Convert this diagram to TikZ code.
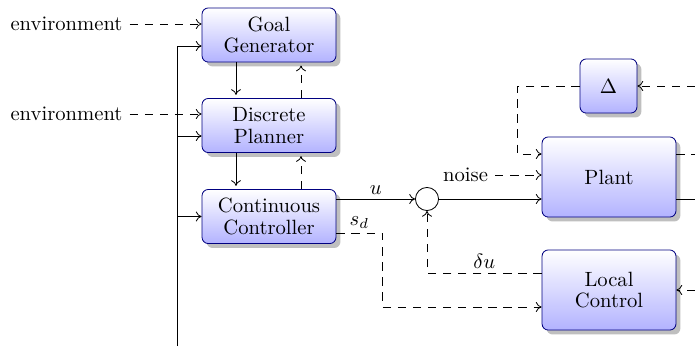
\documentclass[tikz,border=0pt]{standalone}
\usetikzlibrary{shadows,calc,arrows.meta}
\begin{document}
\begin{tikzpicture}[x=0.4846pt,y=-0.4846pt, line width=0.4pt,
  >={To[length=2.8pt,width=4.8pt]},
  blk/.style={draw=blue!50!black, rounded corners=3pt, top color=white, bottom color=blue!30,
    drop shadow={fill=black!25, opacity=1}, align=center, inner sep=0pt,
    font={\fontsize{10}{10.5}\selectfont}},
  wide/.style={blk, minimum width=64.9pt, minimum height=26.2pt},
  tall/.style={blk, minimum width=64.9pt, minimum height=38.8pt},
  sq/.style={blk, minimum width=27.6pt, minimum height=26.2pt},
  sumnode/.style={circle, draw, minimum size=11.2pt, inner sep=0pt},
  dsh/.style={dash pattern=on 4pt off 3.3pt},
  arr/.style={->},
  darr/.style={dsh,->},
  varr/.style={->, shorten >=1.5pt},
  vdarr/.style={dsh,->, shorten >=1.5pt}]
\useasboundingbox (0,0) rectangle (695,346);

\node[wide] (goal) at (269,35) {Goal\\Generator};
\node[wide] (disc) at (269,125.5) {Discrete\\Planner};
\node[wide] (cont) at (269,216.5) {Continuous\\Controller};
\node[sq] (delta) at (608.5,86) {$\Delta$};
\node[tall] (plant) at (609,177) {Plant};
\node[tall] (local) at (609,290) {Local\\Control};
\node[sumnode] (sum) at (427,199) {};

\node (env1) at (66.5,24) {environment};
\node (env2) at (66.5,114) {environment};
\node (noise) at (465.5,175) {noise};

% bus
\coordinate (busbot) at (177,346);
\coordinate (bustop) at (177,46);
\coordinate (bus2) at (177,136);
\draw (busbot) -- (bustop);
\draw[arr] (bustop) -- (bustop -| goal.west);
\draw[arr] (bus2) -- (bus2 -| disc.west);
\draw[arr] (busbot |- cont.west) -- (cont.west);

\draw[darr] (env1) -- (env1 -| goal.west);
\draw[darr] (env2) -- (env2 -| disc.west);

% vertical links
\draw[varr] ($(goal.south)+(-33,0)$) -- ($(disc.north)+(-33,0)$);
\draw[vdarr] ($(disc.north)+(32,0)$) -- ($(goal.south)+(32,0)$);
\draw[varr] ($(disc.south)+(-33,0)$) -- ($(cont.north)+(-33,0)$);
\draw[vdarr] ($(cont.north)+(32,0)$) -- ($(disc.south)+(32,0)$);

% controller outputs
\draw[arr] (cont.east |- sum) -- node[above, inner sep=2pt] {$u$} (sum.west);
\draw[darr] ($(cont.east)+(0,16.5)$) -- node[above, inner sep=2pt] {$s_d$} ++(46,0) |- ($(local.west)+(0,17)$);

\coordinate (lw1) at ($(local.west)+(0,-17)$);
\draw[darr] (lw1) -- node[above, inner sep=2pt] {$\delta u$} (lw1 -| sum) -- (sum.south);

\draw[arr] (sum.east) -- (sum -| plant.west);
\draw[darr] (noise) -- (noise -| plant.west);

% delta loop
\draw[darr] (delta.west) -- ++(-62,0) |- ($(plant.west)+(0,-23)$);
\coordinate (r1) at (695,86);
\draw[darr] (r1) -- (delta.east);
\coordinate (r2) at (695,290);
\draw[darr] (r2) -- (local.east);
\coordinate (pe1) at ($(plant.east)+(0,-23)$);
\coordinate (pe2) at ($(plant.east)+(0,22)$);
\draw[dsh] (pe1) -- (pe1 -| r1);
\draw (pe2) -- (pe2 -| r1);
\end{tikzpicture}
\end{document}
